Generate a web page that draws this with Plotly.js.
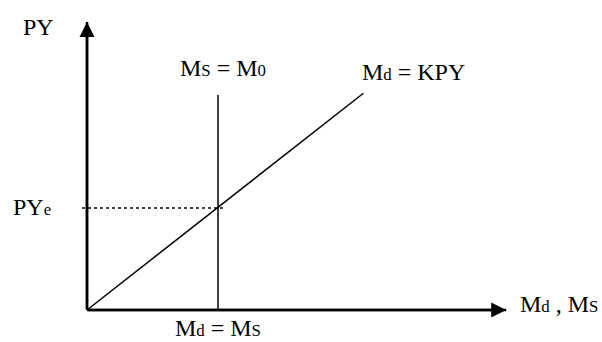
<!DOCTYPE html>
<html>
<head>
<meta charset="utf-8">
<script src="https://cdn.plot.ly/plotly-3.0.1.min.js"></script>
<style>html,body{margin:0;padding:0;background:#fff;}#chart{width:602px;height:342px;}</style>
</head>
<body>
<div id="chart"></div>
<script>
// Quantity-theory money market diagram (schematic units)
var moneySupply = 5;          // M0
var equilibriumPY = 4;        // PYe
var demandX = [0, 10.55];     // Md values along demand line
var demandY = [0, 8.5];       // PY values along demand line (Md = K·PY)
var supplyX = [5, 5];
var supplyY = [0, 8.43];
var eqLineX = [-0.19, 5.19];
var eqLineY = [4, 4];
var yAxisX = [0, 0];
var yAxisY = [0, 11.29];
var xAxisX = [0, 16.0];
var xAxisY = [0, 0];

var small = function (s) { return "<span style='font-size:70%'>" + s + "</span>"; };
var labels = {
  py: "PY",
  pye: "PY" + small("e"),
  ms: "M" + small("S") + " = M" + small("0"),
  md: "M" + small("d") + " = KPY",
  eq: "M" + small("d") + " = M" + small("S"),
  xlab: "M" + small("d") + " , M" + small("S")
};

var font = {family: "Liberation Serif", size: 24, color: "#000"};
var black = "#000";

var traces = [
  {x: yAxisX, y: yAxisY, mode: "lines", line: {color: black, width: 2.5}, hoverinfo: "skip"},
  {x: xAxisX, y: xAxisY, mode: "lines", line: {color: black, width: 2.5}, hoverinfo: "skip"},
  {x: supplyX, y: supplyY, mode: "lines", line: {color: black, width: 1.5}, hoverinfo: "skip"},
  {x: demandX, y: demandY, mode: "lines", line: {color: black, width: 1.5}, hoverinfo: "skip"},
  {x: eqLineX, y: eqLineY, mode: "lines", line: {color: black, width: 1.5, dash: "dot"}, hoverinfo: "skip"}
];

function arrow(xt, yt, xa, ya) {
  return {x: xt, y: yt, ax: xa, ay: ya, xref: "x", yref: "y", axref: "x", ayref: "y",
    text: "", showarrow: true, arrowhead: 2, arrowwidth: 2.5, arrowsize: 1.2, arrowcolor: black, standoff: 0};
}
function label(txt, x, y, xanchor, yanchor) {
  return {x: x, y: y, xref: "x", yref: "y", text: txt, showarrow: false, font: font,
    xanchor: xanchor || "center", yanchor: yanchor || "middle", borderpad: 0};
}

var layout = {
  width: 602, height: 342,
  margin: {l: 0, r: 0, t: 0, b: 0},
  paper_bgcolor: "#fff", plot_bgcolor: "#fff",
  showlegend: false,
  xaxis: {range: [-3.3206, 19.656], visible: false, fixedrange: true},
  yaxis: {range: [-1.2549, 12.157], visible: false, fixedrange: true},
  annotations: [
    arrow(yAxisX[1], yAxisY[1], 0, 0),
    arrow(xAxisX[1], xAxisY[1], 0, 0),
    label(labels.py, -1.85, 11.1),
    label(labels.pye, -2.1, equilibriumPY + 0.05),
    label(labels.ms, moneySupply + 0.2, 9.5),
    label(labels.md, 12.45, 9.35),
    label(labels.eq, moneySupply, -1.25, "center", "bottom"),
    label(labels.xlab, 16.5, 0.25, "left")
  ]
};

Plotly.newPlot("chart", traces, layout, {displayModeBar: false, staticPlot: true});
</script>
</body>
</html>
